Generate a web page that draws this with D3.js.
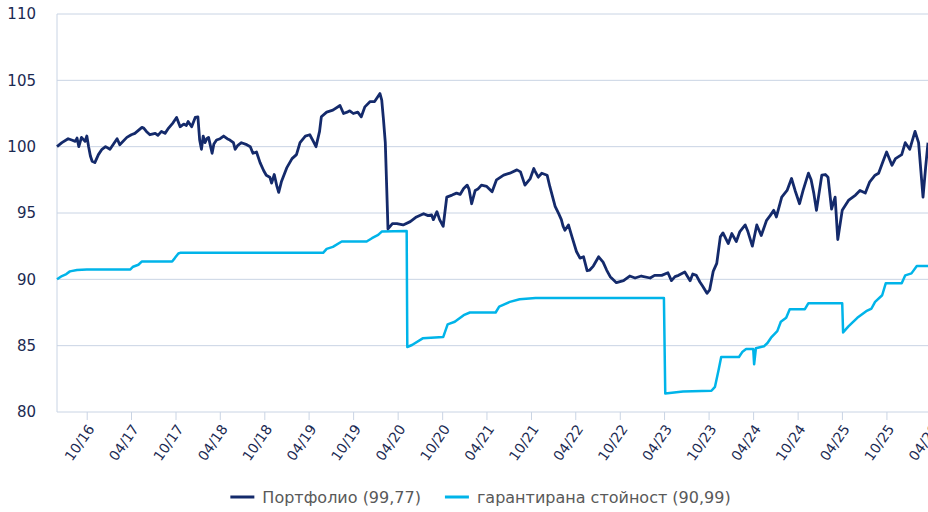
<!DOCTYPE html>
<html>
<head>
<meta charset="utf-8">
<script src="https://cdn.jsdelivr.net/npm/d3@7"></script>
<style>
	body { margin: 0; background: #fff; }
	svg { display: block; font-family: "DejaVu Sans", Verdana, sans-serif; }
	.grid line { stroke: #c9d4e4; stroke-width: 1; }
	.tick-label { fill: #1b2a52; }
	.legend text { fill: #595959; }
</style>
</head>
<body>
<svg id="chart" width="928" height="512"></svg>
<script>

//: series names (legend)
var seriesNames = [ "Портфолио (99,77)", "гарантирана стойност (90,99)" ];

var yTicks = [ 80, 85, 90, 95, 100, 105, 110 ];

// [decimal year, value]
var portfolio = [
	[2016.415,100.0],[2016.47,100.3],[2016.54,100.6],[2016.58,100.5],[2016.62,100.4],[2016.64,100.65],
	[2016.66,100.0],[2016.69,100.7],[2016.73,100.4],[2016.75,100.8],[2016.77,100.0],[2016.79,99.3],
	[2016.81,98.9],[2016.84,98.8],[2016.88,99.4],[2016.92,99.8],[2016.96,100.0],[2017.01,99.8],
	[2017.05,100.2],[2017.09,100.6],[2017.12,100.15],[2017.20,100.7],[2017.25,100.9],[2017.29,101.0],
	[2017.37,101.45],[2017.39,101.4],[2017.42,101.15],[2017.46,100.9],[2017.52,101.0],[2017.55,100.85],
	[2017.59,101.15],[2017.63,101.0],[2017.67,101.4],[2017.72,101.8],[2017.76,102.2],[2017.80,101.5],
	[2017.84,101.7],[2017.87,101.6],[2017.89,101.9],[2017.93,101.5],[2017.97,102.2],[2018.00,102.25],
	[2018.02,100.5],[2018.04,99.8],[2018.06,100.8],[2018.08,100.3],[2018.10,100.6],[2018.12,100.7],
	[2018.16,99.5],[2018.18,100.2],[2018.21,100.5],[2018.25,100.6],[2018.29,100.8],[2018.33,100.6],
	[2018.36,100.5],[2018.40,100.3],[2018.42,99.8],[2018.45,100.1],[2018.49,100.3],[2018.55,100.15],
	[2018.59,100.0],[2018.62,99.5],[2018.66,99.6],[2018.70,98.8],[2018.74,98.2],[2018.77,97.85],
	[2018.81,97.7],[2018.83,97.25],[2018.86,97.9],[2018.89,97.0],[2018.91,96.55],[2018.94,97.35],
	[2019.00,98.4],[2019.06,99.1],[2019.11,99.4],[2019.15,100.3],[2019.21,100.8],[2019.26,100.9],
	[2019.30,100.4],[2019.33,100.0],[2019.37,101.15],[2019.39,102.25],[2019.45,102.6],[2019.52,102.75],
	[2019.60,103.1],[2019.64,102.5],[2019.68,102.6],[2019.71,102.7],[2019.75,102.5],[2019.80,102.6],
	[2019.84,102.25],[2019.88,103.0],[2019.94,103.4],[2019.99,103.4],[2020.02,103.7],[2020.05,104.0],
	[2020.07,103.5],[2020.09,102.0],[2020.11,100.3],[2020.13,96.0],[2020.14,93.8],[2020.19,94.2],
	[2020.24,94.2],[2020.31,94.1],[2020.39,94.35],[2020.46,94.7],[2020.54,94.95],[2020.59,94.8],
	[2020.63,94.85],[2020.65,94.5],[2020.69,95.1],[2020.72,94.5],[2020.76,94.0],[2020.80,96.2],
	[2020.86,96.35],[2020.91,96.5],[2020.95,96.4],[2020.99,96.85],[2021.03,97.1],[2021.05,96.8],
	[2021.08,95.7],[2021.12,96.7],[2021.15,96.8],[2021.19,97.1],[2021.25,97.0],[2021.31,96.6],
	[2021.36,97.5],[2021.44,97.85],[2021.51,98.0],[2021.59,98.25],[2021.63,98.1],[2021.66,97.5],
	[2021.68,97.1],[2021.74,97.6],[2021.78,98.35],[2021.79,98.2],[2021.83,97.7],[2021.87,98.0],
	[2021.93,97.85],[2021.96,97.0],[2022.02,95.5],[2022.06,94.95],[2022.09,94.5],[2022.11,94.0],
	[2022.13,93.7],[2022.17,94.1],[2022.21,93.2],[2022.26,92.1],[2022.30,91.6],[2022.34,91.7],
	[2022.38,90.65],[2022.41,90.7],[2022.45,91.0],[2022.51,91.7],[2022.56,91.3],[2022.60,90.7],
	[2022.64,90.2],[2022.71,89.75],[2022.79,89.9],[2022.86,90.25],[2022.92,90.1],[2022.99,90.25],
	[2023.09,90.1],[2023.14,90.3],[2023.22,90.3],[2023.29,90.5],[2023.33,89.9],[2023.37,90.2],
	[2023.41,90.3],[2023.48,90.55],[2023.54,89.9],[2023.57,90.4],[2023.61,90.3],[2023.65,89.8],
	[2023.68,89.5],[2023.73,88.95],[2023.76,89.2],[2023.80,90.6],[2023.84,91.2],[2023.88,93.2],
	[2023.91,93.5],[2023.97,92.7],[2024.01,93.45],[2024.06,92.85],[2024.10,93.6],[2024.16,94.1],
	[2024.19,93.6],[2024.24,92.5],[2024.29,94.1],[2024.34,93.3],[2024.40,94.45],[2024.44,94.8],
	[2024.48,95.2],[2024.51,94.7],[2024.57,96.2],[2024.63,96.7],[2024.68,97.6],[2024.72,96.7],
	[2024.77,95.7],[2024.81,96.7],[2024.87,98.0],[2024.90,97.5],[2024.93,96.5],[2024.96,95.2],
	[2025.02,97.85],[2025.06,97.9],[2025.09,97.7],[2025.13,95.3],[2025.17,96.2],[2025.20,93.0],
	[2025.25,95.2],[2025.32,95.95],[2025.40,96.35],[2025.45,96.7],[2025.51,96.5],[2025.56,97.35],
	[2025.62,97.85],[2025.66,98.0],[2025.71,98.9],[2025.75,99.6],[2025.81,98.6],[2025.85,99.1],
	[2025.92,99.4],[2025.96,100.3],[2026.01,99.8],[2026.07,101.15],[2026.11,100.3],[2026.15,97.0],
	[2026.16,96.2],[2026.19,98.5],[2026.216,100.3]
];

var guaranteed = [
	[2016.415,90.0],[2016.47,90.25],[2016.52,90.4],[2016.56,90.6],[2016.64,90.7],[2016.75,90.75],
	[2017.24,90.75],[2017.27,90.95],[2017.33,91.1],[2017.37,91.35],[2017.71,91.35],[2017.74,91.6],
	[2017.78,91.95],[2017.80,92.0],[2019.41,92.0],[2019.45,92.3],[2019.52,92.45],[2019.62,92.85],
	[2019.90,92.85],[2019.96,93.1],[2020.03,93.35],[2020.07,93.6],[2020.35,93.65],[2020.357,84.9],
	[2020.41,85.05],[2020.53,85.55],[2020.76,85.65],[2020.81,86.6],[2020.89,86.8],[2020.99,87.3],
	[2021.06,87.5],[2021.35,87.5],[2021.39,87.95],[2021.51,88.3],[2021.62,88.5],[2021.80,88.6],
	[2023.245,88.6],[2023.26,81.4],[2023.46,81.55],[2023.78,81.6],[2023.82,81.9],[2023.86,83.15],
	[2023.89,84.15],[2024.09,84.15],[2024.13,84.55],[2024.17,84.75],[2024.25,84.75],[2024.26,83.6],
	[2024.28,84.8],[2024.37,84.95],[2024.41,85.2],[2024.45,85.6],[2024.52,86.1],[2024.56,86.8],
	[2024.62,87.1],[2024.66,87.75],[2024.83,87.75],[2024.87,88.2],[2025.25,88.2],[2025.26,86.0],
	[2025.32,86.45],[2025.42,87.1],[2025.52,87.6],[2025.58,87.8],[2025.62,88.3],[2025.70,88.8],
	[2025.74,89.7],[2025.92,89.7],[2025.96,90.3],[2026.03,90.45],[2026.09,91.0],[2026.216,91.0]
];

var colors = [ "#142a6b", "#00b4e9" ];

//: Number -> Date
var toDate = function( t ) {
	var y = Math.floor( t );
	var a = Date.UTC( y, 0, 1 ), b = Date.UTC( y + 1, 0, 1 );
	return new Date( a + ( t - y ) * ( b - a ) );
};

var margin = { left: 57, right: 0, top: 14, bottom: 100 };
var width = 928, height = 512;

var svg = d3.select( "svg#chart" );

var x = d3.scaleUtc()
	.domain( [ toDate( 2016.415 ), toDate( 2026.216 ) ] )
	.range( [ margin.left, width - margin.right ] );

var y = d3.scaleLinear()
	.domain( [ 80, 110 ] )
	.range( [ height - margin.bottom, margin.top ] );

var xTicks = d3.utcMonth.range( new Date( Date.UTC( 2016, 9, 1 ) ), new Date( Date.UTC( 2026, 4, 1 ) ), 6 );

// horizontal grid
var grid = svg.append( "g" ).attr( "class", "grid" );

grid.selectAll( "line.h" )
	.data( yTicks )
	.enter()
		.append( "line" )
		.attr( "class", "h" )
		.attr( "x1", margin.left )
		.attr( "x2", width - margin.right )
		.attr( "y1", function( d ) { return y( d ); } )
		.attr( "y2", function( d ) { return y( d ); } );

grid.append( "line" )
	.attr( "x1", margin.left ).attr( "x2", margin.left )
	.attr( "y1", y( 110 ) ).attr( "y2", y( 80 ) );

// y axis labels
var yAxis = svg.append( "g" )
	.attr( "transform", "translate(" + margin.left + ",0)" )
	.call( d3.axisLeft( y ).tickValues( yTicks ).tickSize( 0 ).tickPadding( 21 ) );

yAxis.select( ".domain" ).remove();
yAxis.selectAll( "text" )
	.attr( "class", "tick-label" )
	.style( "font-size", "15px" )
	.style( "font-family", "DejaVu Sans, Verdana, sans-serif" );

// x axis
var xAxis = svg.append( "g" )
	.attr( "transform", "translate(0," + y( 80 ) + ")" )
	.call( d3.axisBottom( x ).tickValues( xTicks ).tickSize( 8 ).tickFormat( d3.utcFormat( "%m/%y" ) ) );

xAxis.select( ".domain" ).remove();
xAxis.selectAll( ".tick line" ).attr( "stroke", "#c9d4e4" );
xAxis.selectAll( "text" )
	.attr( "class", "tick-label" )
	.style( "font-size", "14px" )
	.style( "font-family", "DejaVu Sans, Verdana, sans-serif" )
	.attr( "text-anchor", "end" )
	.attr( "y", 0 )
	.attr( "dy", 0 )
	.attr( "transform", "translate(8,17) rotate(-55)" );

// lines
var line = d3.line()
	.x( function( d ) { return x( toDate( d[0] ) ); } )
	.y( function( d ) { return y( d[1] ); } );

svg.append( "path" )
	.datum( guaranteed )
	.attr( "fill", "none" )
	.attr( "stroke", colors[1] )
	.attr( "stroke-width", 2.5 )
	.attr( "stroke-linejoin", "round" )
	.attr( "d", line );

svg.append( "path" )
	.datum( portfolio )
	.attr( "fill", "none" )
	.attr( "stroke", colors[0] )
	.attr( "stroke-width", 2.8 )
	.attr( "stroke-linejoin", "round" )
	.attr( "d", line );

// legend
var legend = svg.append( "g" ).attr( "class", "legend" );

var items = legend.selectAll( "g" )
	.data( seriesNames )
	.enter()
		.append( "g" );

items.append( "line" )
	.attr( "x1", 0 ).attr( "x2", 24 )
	.attr( "y1", 0 ).attr( "y2", 0 )
	.attr( "stroke", function( d, i ) { return colors[i]; } )
	.attr( "stroke-width", 3 );

items.append( "text" )
	.attr( "x", 32 )
	.attr( "dy", "0.35em" )
	.style( "font-size", "16px" )
	.text( function( d ) { return d; } );

var offsets = [], pos = 0;
items.each( function( d, i ) {
	offsets[i] = pos;
	pos += 32 + this.querySelector( "text" ).getComputedTextLength() + 24;
});
var total = pos - 24;
var start = 480.5 - total / 2;

items.attr( "transform", function( d, i ) { return "translate(" + ( start + offsets[i] ) + ",497)"; } );

</script>
</body>
</html>
